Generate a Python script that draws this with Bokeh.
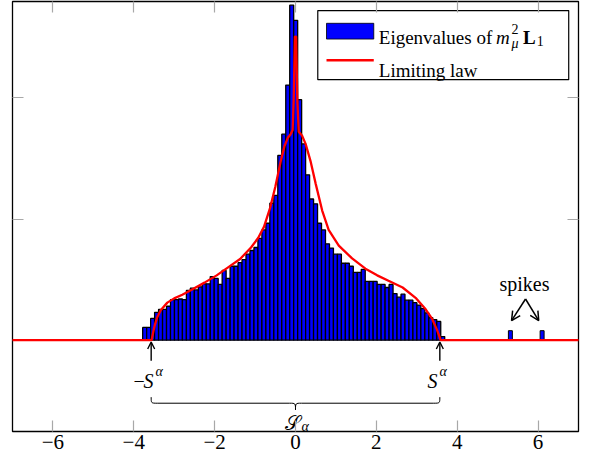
import numpy as np
from bokeh.plotting import figure
from bokeh.models import LinearAxis, FixedTicker, Arrow, OpenHead, CustomJSTickFormatter, Range1d
from bokeh.core.properties import value
from bokeh.embed import file_html
from bokeh.resources import INLINE

# ---------------- data ----------------
bin_start = -3.78
bin_width = 0.0983
eig_density = [0.021, 0.021, 0.036, 0.046, 0.051, 0.051, 0.056, 0.067, 0.067, 0.068,
               0.067, 0.082, 0.086, 0.083, 0.088, 0.093, 0.093, 0.105, 0.102, 0.092,
               0.115, 0.102, 0.122, 0.122, 0.128, 0.133, 0.142, 0.148, 0.153, 0.168,
               0.182, 0.193, 0.226, 0.239, 0.305, 0.340, 0.421, 0.553, 0.528, 0.397,
               0.324, 0.273, 0.233, 0.225, 0.193, 0.182, 0.159, 0.152, 0.142, 0.142,
               0.127, 0.127, 0.122, 0.112, 0.112, 0.117, 0.097, 0.097, 0.097, 0.092,
               0.092, 0.087, 0.092, 0.077, 0.071, 0.076, 0.066, 0.066, 0.062, 0.058,
               0.052, 0.045, 0.037, 0.034, 0.031, 0.006]
spike_centers = [5.315, 6.10]
spike_density = [0.0157, 0.0157]

law_x = [-7.5, -3.56, -3.52, -3.48, -3.42, -3.33, -3.17, -3.0, -2.80, -2.58,
         -2.25, -1.95, -1.65, -1.37, -1.10, -0.92, -0.78, -0.63, -0.50, -0.37,
         -0.27, -0.19, -0.12, -0.07, -0.045, -0.015, 0.015, 0.045, 0.08, 0.16,
         0.25, 0.37, 0.50, 0.66, 0.82, 1.07, 1.40, 1.73, 2.02, 2.30,
         2.65, 2.97, 3.22, 3.38, 3.50, 3.55, 3.59, 7.5]
law_y = [0.0, 0.0, 0.013, 0.025, 0.038, 0.050, 0.062, 0.069, 0.075, 0.083,
         0.095, 0.107, 0.121, 0.134, 0.153, 0.169, 0.187, 0.218, 0.253, 0.294,
         0.321, 0.334, 0.340, 0.347, 0.397, 0.501, 0.501, 0.397, 0.344, 0.338,
         0.324, 0.296, 0.258, 0.214, 0.182, 0.156, 0.135, 0.118, 0.107, 0.098,
         0.087, 0.070, 0.051, 0.035, 0.017, 0.008, 0.0, 0.0]

x_ticks = [-6, -4, -2, 0, 2, 4, 6]
x_tick_labels = ["\u22126", "\u22124", "\u22122", "0", "2", "4", "6"]
y_ticks = [0.2, 0.4]
S_alpha = 3.57

SERIF = value("Liberation Serif")
FS = "20px"
FS_LEG = "19px"
FS_SMALL = "14px"

# ---------------- figure ----------------
p = figure(width=586, height=460, x_range=Range1d(-7, 7), y_range=Range1d(-0.1507, 0.559),
           output_backend="svg", toolbar_location=None,
           x_axis_location=None, y_axis_location=None,
           min_border_left=12, min_border_right=8, min_border_top=1, min_border_bottom=29)
p.grid.visible = False
p.outline_line_color = "black"
p.outline_line_width = 1.3
p.background_fill_color = "white"
p.border_fill_color = "white"


def tick_axis(loc, ticks, labels=None):
    ax = LinearAxis(ticker=FixedTicker(ticks=ticks))
    ax.axis_line_color = None
    ax.major_tick_in = 11
    ax.major_tick_out = 0
    ax.minor_tick_line_color = None
    ax.major_tick_line_color = "#a8a8a8"
    ax.major_tick_line_width = 1.2
    if labels is not None:
        ax.major_label_overrides = {t: l for t, l in zip(ticks, labels)}
        ax.major_label_text_font = "Liberation Serif"
        ax.major_label_text_font_size = "21px"
        ax.major_label_text_color = "black"
        ax.major_label_standoff = 3
    else:
        ax.formatter = CustomJSTickFormatter(code="return ''")
        ax.major_label_text_font_size = "0px"
        ax.major_label_standoff = 0
    p.add_layout(ax, loc)


tick_axis("below", x_ticks, x_tick_labels)
tick_axis("above", x_ticks)
tick_axis("left", y_ticks)
tick_axis("right", y_ticks)

# histogram bars
edges = bin_start + bin_width * np.arange(len(eig_density) + 1)
p.quad(left=edges[:-1], right=edges[1:], bottom=0, top=eig_density,
       fill_color="#0000ff", line_color="black", line_width=1.3)
sc = np.array(spike_centers)
p.quad(left=sc - bin_width / 2, right=sc + bin_width / 2, bottom=0, top=spike_density,
       fill_color="#0000ff", line_color="black", line_width=1.0)

# limiting law
p.line(law_x, law_y, line_color="red", line_width=2.3)

# ---------------- annotations ----------------
for xs in (-S_alpha, S_alpha):
    p.add_layout(Arrow(end=OpenHead(size=7, line_width=1.4, line_color="black"),
                       x_start=xs, y_start=-0.034, x_end=xs, y_end=-0.003,
                       line_width=1.4, line_color="black"))

# -S^alpha and S^alpha
p.text(x=[-3.87], y=[-0.067], text=["\u2212"], text_font=SERIF, text_font_size=FS,
       text_align="center", text_baseline="alphabetic", text_color="black")
p.text(x=[-3.76, 3.264], y=[-0.067, -0.067], text=["S", "S"], text_font=SERIF,
       text_font_size=FS, text_font_style="italic", text_align="left",
       text_baseline="alphabetic", text_color="black")
p.text(x=[-3.46, 3.56], y=[-0.052, -0.052], text=["\u03b1", "\u03b1"], text_font=SERIF,
       text_font_size=FS_SMALL, text_font_style="italic", text_align="left",
       text_baseline="alphabetic", text_color="black")

# brace under the support
yb_end, yb_mid, yb_tip = -0.094, -0.104, -0.115
q = 0.15
xl, xr, xc = -S_alpha, S_alpha, 0.0
p.bezier(x0=[xl, xc - q, xc, xr], y0=[yb_end, yb_mid, yb_tip, yb_end],
         x1=[xl + q, xc, xc + q, xr - q], y1=[yb_mid, yb_tip, yb_mid, yb_mid],
         cx0=[xl, xc, xc, xr], cy0=[yb_mid, yb_mid, yb_mid, yb_mid],
         cx1=[xl, xc, xc, xr], cy1=[yb_mid, yb_mid, yb_mid, yb_mid],
         line_color="black", line_width=1.0)
p.segment(x0=[xl + q, xc + q], y0=[yb_mid, yb_mid], x1=[xc - q, xr - q], y1=[yb_mid, yb_mid],
          line_color="black", line_width=1.0)
p.text(x=[-0.07], y=[-0.137], text=["\U0001d4ae"], text_font=SERIF, text_font_size=FS,
       text_align="center", text_baseline="alphabetic", text_color="black")
p.text(x=[0.15], y=[-0.1425], text=["\u03b1"], text_font=SERIF, text_font_size=FS_SMALL,
       text_font_style="italic", text_align="left", text_baseline="alphabetic",
       text_color="black")

# spikes annotation
p.text(x=[5.663], y=[0.0929], text=["spikes"], text_font=SERIF, text_font_size=FS,
       text_align="center", text_baseline="alphabetic", text_color="black")
for xe in (5.344, 6.016):
    p.add_layout(Arrow(end=OpenHead(size=9, line_width=1.5, line_color="black"),
                       x_start=5.69, y_start=0.068, x_end=xe, y_end=0.0322,
                       line_width=1.5, line_color="black"))

# ---------------- legend ----------------
p.quad(left=[0.551], right=[6.758], bottom=[0.43], top=[0.544],
       fill_color="white", line_color="black", line_width=1.2)
p.quad(left=[0.767], right=[1.936], bottom=[0.497], top=[0.523],
       fill_color="#0000ff", line_color="black", line_width=0.8)
p.segment(x0=[0.767], y0=[0.462], x1=[1.936], y1=[0.462], line_color="red", line_width=2.3)
p.text(x=[2.06, 2.06], y=[0.4995, 0.4455], text=["Eigenvalues of", "Limiting law"],
       text_font=SERIF, text_font_size=FS_LEG, text_align="left", text_baseline="alphabetic",
       text_color="black")
p.text(x=[4.96], y=[0.4995], text=["m"], text_font=SERIF, text_font_size=FS_LEG,
       text_font_style="italic", text_align="left", text_baseline="alphabetic", text_color="black")
p.text(x=[5.34, 5.97], y=[0.513, 0.4934], text=["2", "1"], text_font=SERIF,
       text_font_size=FS_SMALL, text_align="left", text_baseline="alphabetic", text_color="black")
p.text(x=[5.34], y=[0.49], text=["\u03bc"], text_font=SERIF, text_font_size=FS_SMALL,
       text_font_style="italic", text_align="left", text_baseline="alphabetic", text_color="black")
p.text(x=[5.63], y=[0.4995], text=["L"], text_font=SERIF, text_font_size=FS_LEG,
       text_font_style="bold", text_align="left", text_baseline="alphabetic", text_color="black")

open("out.html", "w").write(file_html(p, INLINE))
